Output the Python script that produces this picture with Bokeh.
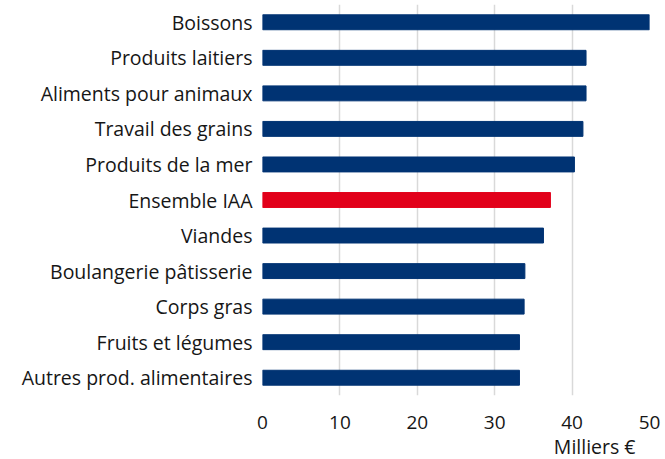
from bokeh.plotting import figure
from bokeh.models import FixedTicker, Range1d, Title
from bokeh.embed import file_html
from bokeh.resources import INLINE

categories = ["Boissons", "Produits laitiers", "Aliments pour animaux", "Travail des grains",
              "Produits de la mer", "Ensemble IAA", "Viandes", "Boulangerie pâtisserie",
              "Corps gras", "Fruits et légumes", "Autres prod. alimentaires"]
values = [50.1, 41.8, 41.8, 41.4, 40.3, 37.2, 36.3, 33.9, 33.8, 33.2, 33.2]
highlight = "Ensemble IAA"
x_ticks = [0, 10, 20, 30, 40, 50]
unit_label = "Milliers €"

n = len(categories)
ypos = [n - 1 - i for i in range(n)]
colors = ["#e2001a" if c == highlight else "#003373" for c in categories]

FONT = "Open Sans"
TXT = "#161616"
p = figure(width=665, height=459, output_backend="svg", toolbar_location=None,
           x_range=Range1d(0, 50), y_range=Range1d(-0.5, n - 0.5),
           min_border_left=262, min_border_right=16, min_border_top=4, min_border_bottom=0)
p.outline_line_color = None
p.hbar(y=ypos, right=values, left=0, height=0.42, color=colors)

p.xaxis.ticker = FixedTicker(ticks=x_ticks)
p.xaxis.axis_line_color = None
p.xaxis.major_tick_line_color = None
p.xaxis.minor_tick_line_color = None
p.xaxis.major_label_text_font = FONT
p.xaxis.major_label_text_font_size = "19px"
p.xaxis.major_label_text_color = TXT
p.xaxis.major_label_standoff = 14

p.yaxis.ticker = FixedTicker(ticks=ypos)
p.yaxis.major_label_overrides = {y: c for y, c in zip(ypos, categories)}
p.yaxis.axis_line_color = None
p.yaxis.major_tick_line_color = None
p.yaxis.minor_tick_line_color = None
p.yaxis.major_label_text_font = FONT
p.yaxis.major_label_text_font_size = "19.5px"
p.yaxis.major_label_text_color = TXT
p.yaxis.major_label_standoff = 4

p.ygrid.grid_line_color = None
p.xgrid.grid_line_color = "#d9d9d9"
p.xgrid.grid_line_width = 1.5

p.add_layout(Title(text=unit_label, align="right", offset=14, text_font=FONT,
                   text_font_size="19.5px", text_color=TXT, text_font_style="normal",
                   standoff=-1), "below")

open("out.html", "w").write(file_html(p, INLINE))
